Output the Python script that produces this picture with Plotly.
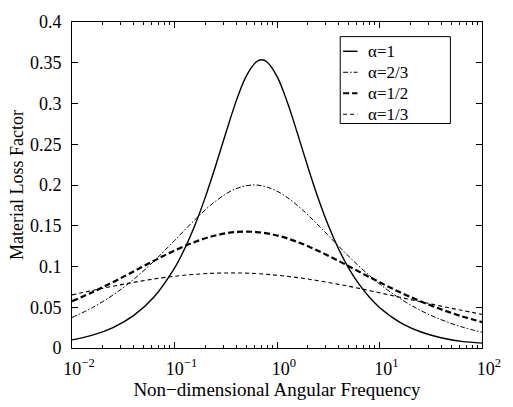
import plotly.graph_objects as go

# Non-dimensional angular frequency (log-spaced samples)
freq = [0.01, 0.01585, 0.02512, 0.03981, 0.0631, 0.1, 0.1585, 0.2512, 0.3981, 0.631,
        1.0, 1.585, 2.512, 3.981, 6.31, 10.0, 15.85, 25.12, 39.81, 63.1, 100.0]
# denser sampling for the sharp alpha = 1 peak
freq_a1 = [0.01, 0.01585, 0.02512, 0.03981, 0.0631, 0.1, 0.1259, 0.1585, 0.1995, 0.2512,
           0.3162, 0.3981, 0.5012, 0.631, 0.7079, 0.7943, 1.0, 1.259, 1.585, 1.995, 2.512,
           3.162, 3.981, 5.012, 6.31, 7.943, 10.0, 15.85, 25.12, 39.81, 63.1, 100.0]

# Material loss factor
eta_a1 = [0.0100, 0.0158, 0.0251, 0.0397, 0.0626, 0.0980, 0.1220, 0.1509, 0.1848, 0.2230,
          0.2635, 0.3023, 0.3336, 0.3513, 0.3536, 0.3512, 0.3333, 0.3019, 0.2631, 0.2226, 0.1844,
          0.1506, 0.1218, 0.0978, 0.0783, 0.0625, 0.0498, 0.0315, 0.0199, 0.0126, 0.0081, 0.0060]
eta_a23 = [0.0374, 0.0496, 0.0650, 0.0840, 0.1066, 0.1318, 0.1575, 0.1801, 0.1955, 0.2000,
           0.1925, 0.1748, 0.1510, 0.1251, 0.1004, 0.0787, 0.0607, 0.0461, 0.0348, 0.0260, 0.0194]
eta_a12 = [0.0574, 0.0685, 0.0808, 0.0939, 0.1071, 0.1195, 0.1302, 0.1381, 0.1423, 0.1423,
           0.1381, 0.1301, 0.1194, 0.1069, 0.0937, 0.0807, 0.0684, 0.0573, 0.0475, 0.0390, 0.0318]
eta_a13 = [0.0652, 0.0706, 0.0758, 0.0805, 0.0847, 0.0880, 0.0904, 0.0918, 0.0921, 0.0913,
           0.0893, 0.0864, 0.0826, 0.0781, 0.0732, 0.0678, 0.0623, 0.0568, 0.0514, 0.0463, 0.0413]

series_names = ["α=1", "α=2/3", "α=1/2", "α=1/3"]
x_tickvals = [0.01, 0.1, 1, 10, 100]
x_ticktext = ["10<sup>−2</sup>", "10<sup>−1</sup>", "10<sup>0</sup>", "10<sup>1</sup>", "10<sup>2</sup>"]
x_minorvals = [m * d for d in (0.01, 0.1, 1, 10) for m in range(2, 10)]
y_tickvals = [0, 0.05, 0.1, 0.15, 0.2, 0.25, 0.3, 0.35, 0.4]
y_ticktext = ["0", "0.05", "0.1", "0.15", "0.2", "0.25", "0.3", "0.35", "0.4"]

FONT = "Liberation Serif, Times New Roman, serif"
styles = [
    dict(color="black", width=1.4, dash="solid"),
    dict(color="black", width=1.0, dash="5px,2px,1.5px,2px"),
    dict(color="black", width=2.2, dash="6px,3px"),
    dict(color="black", width=1.1, dash="4px,3px"),
]
xs_list = [freq_a1, freq, freq, freq]
all_series = [eta_a1, eta_a23, eta_a12, eta_a13]

fig = go.Figure()
for name, xs, ys, st in zip(series_names, xs_list, all_series, styles):
    fig.add_trace(go.Scatter(x=xs, y=ys, mode="lines", name=name,
                             line=dict(shape="spline", smoothing=1.0, **st),
                             showlegend=False))

# Legend box drawn in paper coordinates (Matlab-style compact legend)
lx0, lx1, ly0, ly1 = 0.6542, 0.9229, 0.6886, 0.9551
fig.add_shape(type="rect", xref="paper", yref="paper", x0=lx0, x1=lx1, y0=ly0, y1=ly1,
              line=dict(color="black", width=1), fillcolor="white", layer="above")
entry_y = [0.9102, 0.8458, 0.7814, 0.7171]
for name, yy, st in zip(series_names, entry_y, styles):
    fig.add_shape(type="line", xref="paper", yref="paper", x0=0.6612, x1=0.6963, y0=yy, y1=yy,
                  line=dict(color="black", width=st["width"], dash=st["dash"]), layer="above")
    fig.add_annotation(xref="paper", yref="paper", x=0.7173, y=yy, text=name, showarrow=False,
                       xanchor="left", yanchor="middle", font=dict(family=FONT, size=17, color="black"))

axis_common = dict(showline=True, linecolor="black", linewidth=1, mirror="ticks",
                   ticks="inside", ticklen=6, tickcolor="black", showgrid=False, zeroline=False,
                   tickfont=dict(family=FONT, size=18, color="black"))

fig.update_xaxes(type="log", range=[-2, 2], tickvals=x_tickvals, ticktext=x_ticktext,
                 ticklabelshift=7, ticklabelstandoff=4, ticklabeloverflow="allow",
                 minor=dict(tickmode="array", tickvals=x_minorvals, ticks="inside", ticklen=3,
                            tickcolor="black", showgrid=False),
                 title=dict(text="Non−dimensional Angular Frequency", standoff=3,
                            font=dict(family=FONT, size=19, color="black")),
                 **axis_common)
fig.update_yaxes(range=[0, 0.4], tickvals=y_tickvals, ticktext=y_ticktext,
                 ticklabelstandoff=6,
                 title=dict(text="Material Loss Factor", standoff=1,
                            font=dict(family=FONT, size=18, color="black")),
                 **axis_common)

fig.update_layout(width=513, height=407, margin=dict(l=72, r=13, t=18, b=55),
                  paper_bgcolor="white", plot_bgcolor="white",
                  font=dict(family=FONT, size=18, color="black"))

fig.write_html("out.html", config={"displayModeBar": False},
               post_script="document.body.style.margin='0';")
